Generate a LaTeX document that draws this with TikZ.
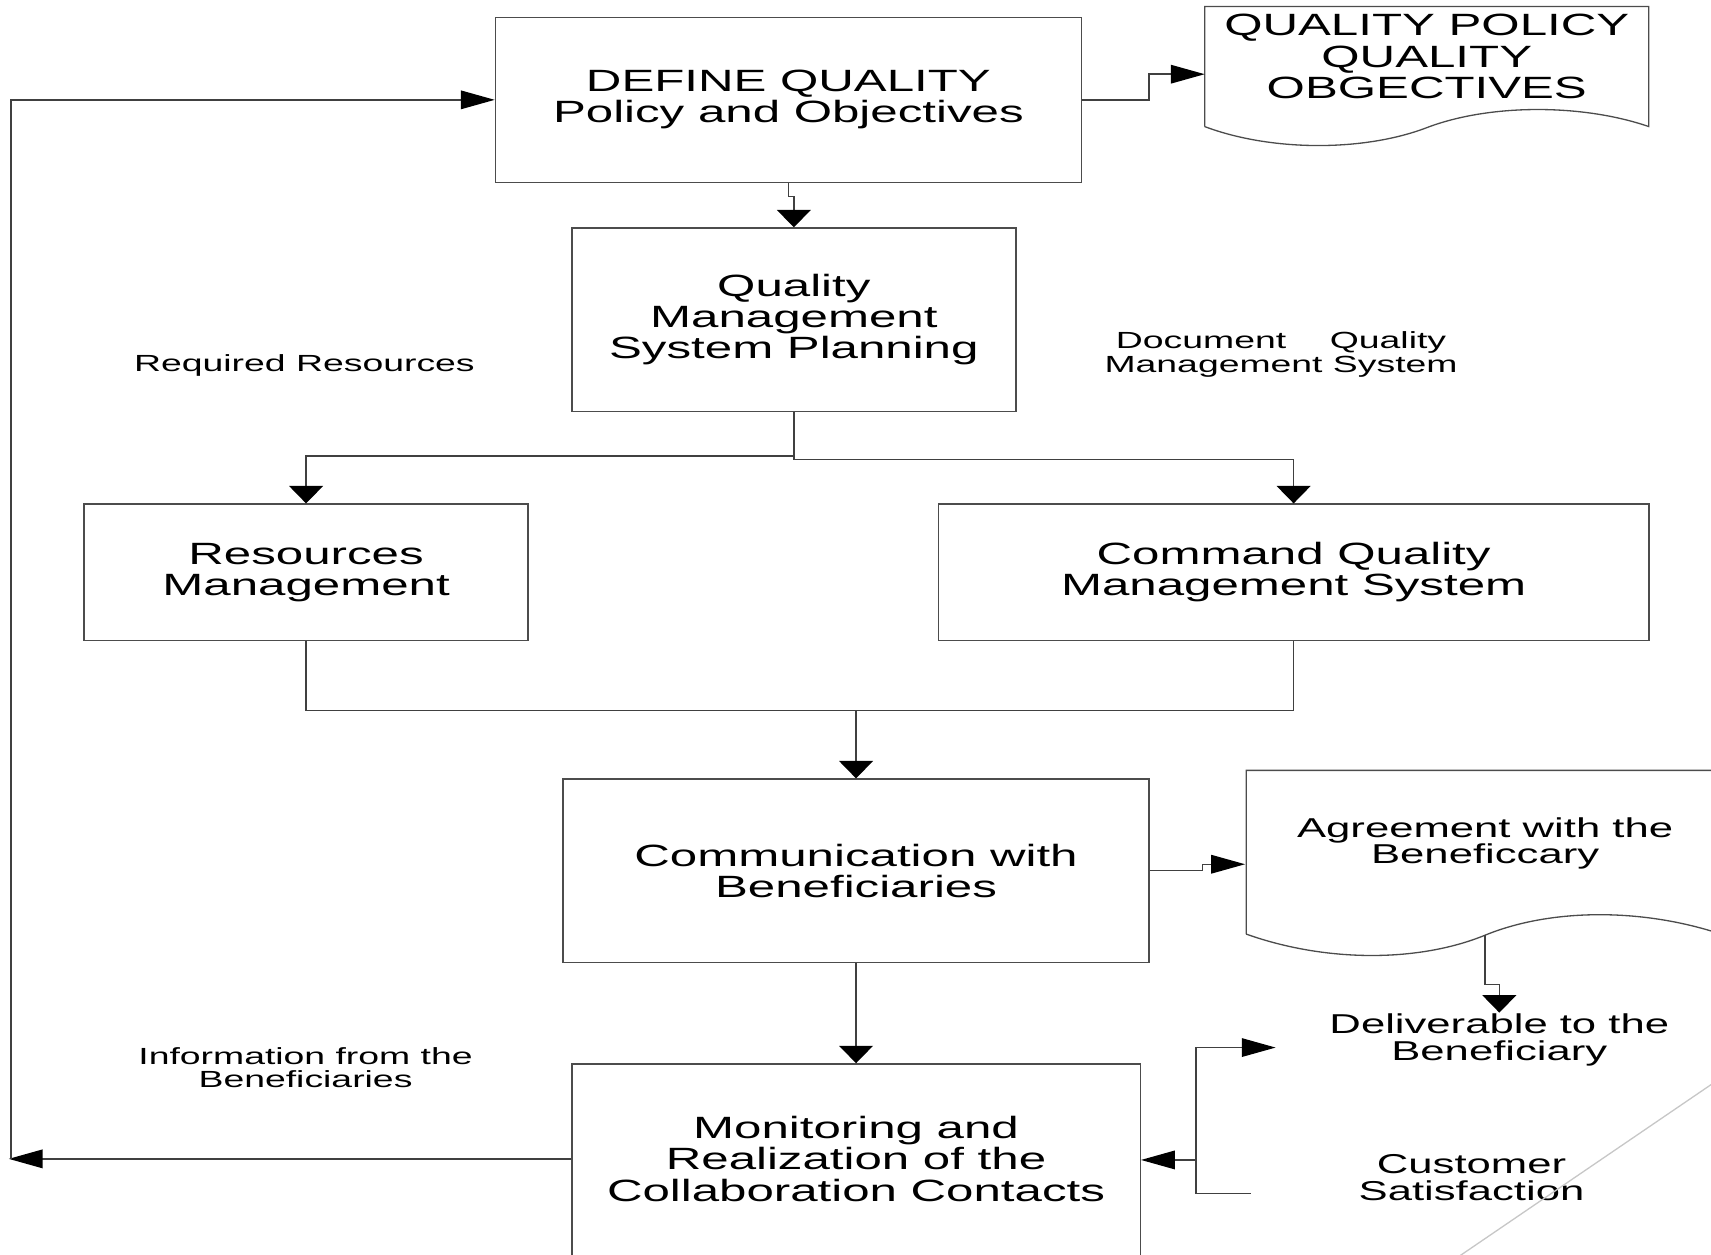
\documentclass[tikz,border=0pt]{standalone}
\usepackage{fontspec}
\setmainfont{Liberation Sans}[FakeStretch=1.6]
\usetikzlibrary{arrows.meta}

\begin{document}
\begin{tikzpicture}[
  x=0.5pt, y=-0.5pt,
  line width=0.65pt,
  wire/.style={draw=black!75},
  box/.style={draw=black!70, rectangle, inner sep=0pt, align=center,
              font=\fontsize{14.1pt}{14.25pt}\selectfont},
  bigtext/.style={inner sep=0pt, align=center,
              font=\fontsize{14.1pt}{14.5pt}\selectfont},
  midtext/.style={inner sep=0pt, align=center,
              font=\fontsize{12.5pt}{12.3pt}\selectfont},
  smalltext/.style={inner sep=0pt, align=center,
              font=\fontsize{10.7pt}{10.8pt}\selectfont},
  doc/.style={draw=black!70, line width=0.6pt},
  varrow/.style={wire, -{Triangle[length=8pt,width=15.5pt,color=black]}},
  harrow/.style={wire, -{Triangle[length=15.5pt,width=8.5pt,color=black]}},
]
\useasboundingbox (0,0) rectangle (1568,1150);

% process boxes
\node[box, minimum width=268.5pt, minimum height=75.5pt] (b1) at (722.5,91.5)
  {DEFINE QUALITY\\Policy and Objectives};
\node[box, minimum width=203.5pt, minimum height=84pt] (b2) at (727.5,293)
  {Quality\\Management\\System Planning};
\node[box, minimum width=203.5pt, minimum height=62.5pt] (b3) at (280.5,524.5)
  {Resources\\Management};
\node[box, minimum width=325.5pt, minimum height=62.5pt] (b4) at (1185.5,524.5)
  {Command Quality\\Management System};
\node[box, minimum width=268.5pt, minimum height=84pt] (b5) at (784.5,798)
  {Communication with\\Beneficiaries};
\node[box, minimum width=260.5pt, minimum height=100pt] (b6) at (784.5,1075) {};
\node[bigtext] (b6t) at (784.5,1062)
  {Monitoring and\\Realization of the\\Collaboration Contacts};

% document shapes
\draw[doc] (1104,116) -- (1104,6) -- (1511,6) -- (1511,116)
  .. controls (1450,95) and (1365,95) .. (1307.5,117)
  .. controls (1250,139) and (1165,139) .. (1104,116);
\node[bigtext] (doc1) at (1307.5,52) {QUALITY POLICY\\QUALITY\\OBGECTIVES};
\coordinate (doc1in) at (1104,68);

\draw[doc] (1142,856) -- (1142,706) -- (1600,706) -- (1600,864)
  -- (1580,857)
  .. controls (1507,832) and (1422,832) .. (1361,857)
  .. controls (1300,882) and (1215,882) .. (1142,856);
\node[midtext] (doc2) at (1361,773) {Agreement with the\\Beneficcary};
\coordinate (doc2in) at (1141,792);
\coordinate (doc2out) at (1361,857);

% free-standing labels
\node[smalltext] (reqres) at (279,335) {Required Resources};
\node[smalltext] (docqms) at (1174,325)
  {Document\hspace{20pt}Quality\\Management System};
\node[smalltext] (info) at (280,978.5) {Information from the\\Beneficiaries};
\node[midtext] (deliv) at (1374,953) {Deliverable to the\\Beneficiary};
\node[midtext] (cust) at (1348.5,1079) {Customer\\Satisfaction};
\coordinate (delivin) at (1169,960);
\coordinate (custout) at (1146,1093.5);
\coordinate (fbsplit) at (1096,1063);

% connectors
\draw[harrow] (b1.east) -- (1053,91.5) -- (1053,68) -- (doc1in);
\draw[varrow] (b1.south) -- (722.5,180) -- (727.5,180) -- (b2.north);
\draw[varrow] (b2.south) -- (727.5,418) -| (b3.north);
\draw[varrow] (b2.south) -- (727.5,421) -| (b4.north);
\draw[wire] (b3.south) -- (280.5,651) -- (1185.5,651) -- (b4.south);
\draw[varrow] (784.5,651) -- (b5.north);
\draw[harrow] (b5.east) -- (1102,798) -- (1102,792) -- (doc2in);
\draw[varrow] (doc2out) -- (1361,902) -- (1374,902) -- (1374,928);
\draw[varrow] (b5.south) -- (b6.north);
\draw[harrow] (b6t -| b6.west) -- (8,1062);
\draw[harrow] (10,1062) -- (10,91.5) -- (b1.west);
\draw[harrow] (custout) -- (1096,1093.5) -- (1096,960) -- (delivin);
\draw[harrow] (fbsplit) -- (fbsplit -| b6.east);

% corner accent
\draw[draw=black!22, line width=0.6pt] (1300,1176.6) -- (1600,972.2);
\end{tikzpicture}
\end{document}
